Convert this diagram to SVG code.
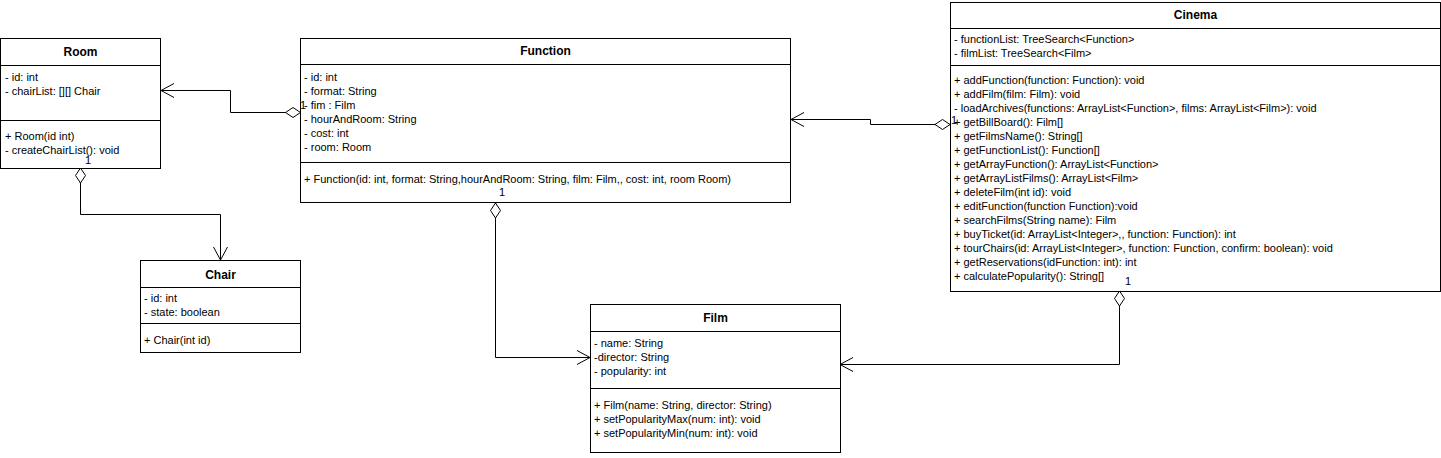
<svg xmlns="http://www.w3.org/2000/svg" width="1441" height="458" viewBox="0 0 1441 458">
<style>
  text { font-family: "Liberation Sans", Arial, sans-serif; font-size: 11px; fill: #000; }
  .title { font-weight: bold; font-size: 12px; text-anchor: middle; }
  .box { fill: #fff; stroke: #000; stroke-width: 1; }
  .sep { stroke: #000; stroke-width: 1; }
  .conn { fill: none; stroke: #000; stroke-width: 1; }
</style>
<defs>
  <marker id="diamond" markerUnits="userSpaceOnUse" markerWidth="16" markerHeight="12" refX="0" refY="0" orient="auto" overflow="visible">
    <path d="M0,0 L7.5,-5 L15,0 L7.5,5 Z" fill="#fff" stroke="#000" stroke-width="1"/>
  </marker>
  <marker id="open" markerUnits="userSpaceOnUse" markerWidth="14" markerHeight="16" refX="0" refY="0" orient="auto" overflow="visible">
    <path d="M-13,-7 L0,0 L-13,7" fill="none" stroke="#000" stroke-width="1"/>
  </marker>
</defs>
<rect width="1441" height="458" fill="#fff"/>

<g id="connectors">
  <path class="conn" d="M300.5,112.5 L230.5,112.5 L230.5,90.5 L161,90.5" marker-start="url(#diamond)" marker-end="url(#open)"/>
  <path class="conn" d="M80.5,168 L80.5,214.5 L220.5,214.5 L220.5,260" marker-start="url(#diamond)" marker-end="url(#open)"/>
  <path class="conn" d="M495.5,203 L495.5,357.5 L590,357.5" marker-start="url(#diamond)" marker-end="url(#open)"/>
  <path class="conn" d="M950,124.5 L870.5,124.5 L870.5,119.5 L791,119.5" marker-start="url(#diamond)" marker-end="url(#open)"/>
  <path class="conn" d="M1119.5,291 L1119.5,364.5 L840,364.5" marker-start="url(#diamond)" marker-end="url(#open)"/>
</g>

<g id="Room">
  <rect class="box" x="0.5" y="38.5" width="160" height="130"/>
  <line class="sep" x1="0.5" y1="65.5" x2="160.5" y2="65.5"/>
  <line class="sep" x1="0.5" y1="120.5" x2="160.5" y2="120.5"/>
  <text class="title" x="80.5" y="56">Room</text>
  <text x="5" y="81">- id: int</text>
  <text x="5" y="95">- chairList: [][] Chair</text>
  <text x="5" y="140">+ Room(id int)</text>
  <text x="5" y="154">- createChairList(): void</text>
</g>

<g id="Function">
  <rect class="box" x="300.5" y="38.5" width="490" height="164"/>
  <line class="sep" x1="300.5" y1="64.5" x2="790.5" y2="64.5"/>
  <line class="sep" x1="300.5" y1="162.5" x2="790.5" y2="162.5"/>
  <text class="title" x="545.5" y="55">Function</text>
  <text x="304" y="81">- id: int</text>
  <text x="304" y="95">- format: String</text>
  <text x="304" y="109">- fim : Film</text>
  <text x="304" y="123">- hourAndRoom: String</text>
  <text x="304" y="137">- cost: int</text>
  <text x="304" y="151">- room: Room</text>
  <text x="304" y="183">+ Function(id: int, format: String,hourAndRoom: String, film: Film,, cost: int, room Room)</text>
</g>

<g id="Cinema">
  <rect class="box" x="950.5" y="2.5" width="490" height="289"/>
  <line class="sep" x1="950.5" y1="28.5" x2="1440.5" y2="28.5"/>
  <line class="sep" x1="950.5" y1="65.5" x2="1440.5" y2="65.5"/>
  <text class="title" x="1195.5" y="19">Cinema</text>
  <text x="954" y="43">- functionList: TreeSearch&lt;Function&gt;</text>
  <text x="954" y="57">- filmList: TreeSearch&lt;Film&gt;</text>
  <text x="954" y="84">+ addFunction(function: Function): void</text>
  <text x="954" y="98">+ addFilm(film: Film): void</text>
  <text x="954" y="112">- loadArchives(functions: ArrayList&lt;Function&gt;, films: ArrayList&lt;Film&gt;): void</text>
  <text x="954" y="126">+ getBillBoard(): Film[]</text>
  <text x="954" y="140">+ getFilmsName(): String[]</text>
  <text x="954" y="154">+ getFunctionList(): Function[]</text>
  <text x="954" y="168">+ getArrayFunction(): ArrayList&lt;Function&gt;</text>
  <text x="954" y="182">+ getArrayListFilms(): ArrayList&lt;Film&gt;</text>
  <text x="954" y="196">+ deleteFilm(int id): void</text>
  <text x="954" y="210">+ editFunction(function Function):void</text>
  <text x="954" y="224">+ searchFilms(String name): Film</text>
  <text x="954" y="238">+ buyTicket(id: ArrayList&lt;Integer&gt;,, function: Function): int</text>
  <text x="954" y="252">+ tourChairs(id: ArrayList&lt;Integer&gt;, function: Function, confirm: boolean): void</text>
  <text x="954" y="266">+ getReservations(idFunction: int): int</text>
  <text x="954" y="280">+ calculatePopularity(): String[]</text>
</g>

<g id="Chair">
  <rect class="box" x="140.5" y="260.5" width="160" height="92"/>
  <line class="sep" x1="140.5" y1="287.5" x2="300.5" y2="287.5"/>
  <line class="sep" x1="140.5" y1="323.5" x2="300.5" y2="323.5"/>
  <text class="title" x="220.5" y="279">Chair</text>
  <text x="144" y="302">- id: int</text>
  <text x="144" y="316">- state: boolean</text>
  <text x="144" y="344">+ Chair(int id)</text>
</g>

<g id="Film">
  <rect class="box" x="590.5" y="304.5" width="250" height="148"/>
  <line class="sep" x1="590.5" y1="331.5" x2="840.5" y2="331.5"/>
  <line class="sep" x1="590.5" y1="388.5" x2="840.5" y2="388.5"/>
  <text class="title" x="715.5" y="322">Film</text>
  <text x="594" y="347">- name: String</text>
  <text x="594" y="361">-director: String</text>
  <text x="594" y="375">- popularity: int</text>
  <text x="594" y="409">+ Film(name: String, director: String)</text>
  <text x="594" y="423">+ setPopularityMax(num: int): void</text>
  <text x="594" y="437">+ setPopularityMin(num: int): void</text>
</g>

<g id="labels">
  <text x="85" y="164">1</text>
  <text x="300" y="109">1</text>
  <text x="499" y="196">1</text>
  <text x="951" y="124">1</text>
  <text x="1125" y="285">1</text>
</g>
</svg>
